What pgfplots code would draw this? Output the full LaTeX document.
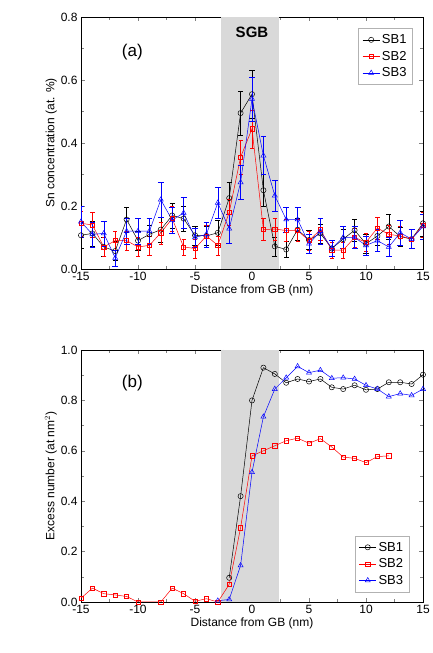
\documentclass[border=0pt]{standalone}
\usepackage{pgfplots}
\pgfplotsset{compat=1.18}
\usepackage{fontspec}
\setmainfont{Liberation Sans}
\begin{document}
\begin{tikzpicture}
\useasboundingbox (0pt,0pt) rectangle (433pt,653pt);
\pgfplotsset{
  myax/.style={
    width=342pt, height=252pt, scale only axis,
    xmin=-15, xmax=15, xtick={-15,-10,...,15}, minor x tick num=1,
    minor y tick num=1, tick align=inside, tick pos=both,
    font=\fontsize{12}{14}\selectfont,
    /pgf/number format/assume math mode=true,
    xlabel={Distance from GB (nm)},
    xlabel style={yshift=3pt}, ylabel style={yshift=-3pt},
    legend cell align=left,
    legend style={font=\fontsize{13}{15}\selectfont, draw=gray!60, row sep=2pt, inner sep=4pt},
    every axis plot/.append style={line width=0.5pt},
    yticklabel style={/pgf/number format/.cd, fixed, fixed zerofill, precision=1},
  },
  s1/.style={black, mark=o, mark size=2.6pt, mark options={fill=white, solid}},
  s2/.style={red, mark=square, mark size=2.1pt, mark options={fill=white, solid}},
  s3/.style={blue, mark=triangle, mark size=2.9pt, mark options={fill=white, solid}},
}
% (a)
\begin{axis}[myax, at={(81pt,384pt)}, anchor=south west,
  ymin=0, ymax=0.8, ytick={0,0.2,...,0.8},
  ylabel={Sn concentration (at. \%)},
  legend style={at={(0.97,0.955)}, anchor=north east}]
\fill[gray!30] (axis cs:-2.7,0) rectangle (axis cs:2.35,0.8);
\node[font=\bfseries\fontsize{15}{17}\selectfont] at (axis cs:0,0.75) {SGB};
\node[font=\fontsize{17}{19}\selectfont] at (axis cs:-10.5,0.69) {(a)};
\addplot[s1, error bars/.cd, y dir=both, y explicit] coordinates {
(-15,0.107)+-(0,0.04) (-14,0.113)+-(0,0.04) (-13,0.07)+-(0,0.03) (-12,0.057)+-(0,0.03)
(-11,0.157)+-(0,0.04) (-10,0.09)+-(0,0.03) (-9,0.11)+-(0,0.03) (-8,0.125)+-(0,0.04)
(-7,0.17)+-(0,0.04) (-6,0.16)+-(0,0.04) (-5,0.107)+-(0,0.03) (-4,0.105)+-(0,0.03)
(-3,0.115)+-(0,0.04) (-2,0.225)+-(0,0.05) (-1,0.495)+-(0,0.07) (0,0.555)+-(0,0.075)
(1,0.25)+-(0,0.05) (2,0.072)+-(0,0.03) (3,0.062)+-(0,0.025) (4,0.125)+-(0,0.035)
(5,0.092)+-(0,0.03) (6,0.113)+-(0,0.03) (7,0.065)+-(0,0.025) (8,0.095)+-(0,0.03)
(9,0.123)+-(0,0.035) (10,0.08)+-(0,0.03) (11,0.105)+-(0,0.03) (12,0.135)+-(0,0.04)
(13,0.103)+-(0,0.03) (14,0.095)+-(0,0.03) (15,0.145)+-(0,0.04)};
\addlegendentry{SB1}
\addplot[s2, error bars/.cd, y dir=both, y explicit] coordinates {
(-15,0.145)+-(0,0.04) (-14,0.14)+-(0,0.04) (-13,0.07)+-(0,0.03) (-12,0.09)+-(0,0.03)
(-11,0.09)+-(0,0.03) (-10,0.07)+-(0,0.03) (-9,0.075)+-(0,0.03) (-8,0.115)+-(0,0.035)
(-7,0.16)+-(0,0.04) (-6,0.07)+-(0,0.025) (-5,0.065)+-(0,0.03) (-4,0.105)+-(0,0.035)
(-3,0.075)+-(0,0.03) (-2,0.18)+-(0,0.04) (-1,0.355)+-(0,0.055) (0,0.445)+-(0,0.06)
(1,0.125)+-(0,0.035) (2,0.127)+-(0,0.035) (3,0.122)+-(0,0.035) (4,0.122)+-(0,0.035)
(5,0.09)+-(0,0.03) (6,0.125)+-(0,0.035) (7,0.06)+-(0,0.025) (8,0.06)+-(0,0.025)
(9,0.1)+-(0,0.03) (10,0.085)+-(0,0.03) (11,0.13)+-(0,0.035) (12,0.11)+-(0,0.03)
(13,0.105)+-(0,0.03) (14,0.095)+-(0,0.03) (15,0.14)+-(0,0.04)};
\addlegendentry{SB2}
\addplot[s3, error bars/.cd, y dir=both, y explicit] coordinates {
(-15,0.15)+-(0,0.05) (-14,0.11)+-(0,0.04) (-13,0.113)+-(0,0.04) (-12,0.035)+-(0,0.025)
(-11,0.12)+-(0,0.04) (-10,0.12)+-(0,0.04) (-9,0.12)+-(0,0.04) (-8,0.22)+-(0,0.055)
(-7,0.155)+-(0,0.04) (-6,0.178)+-(0,0.05) (-5,0.1)+-(0,0.03) (-4,0.11)+-(0,0.04)
(-3,0.21)+-(0,0.05) (-2,0.128)+-(0,0.045) (-1,0.275)+-(0,0.055) (0,0.54)+-(0,0.07)
(1,0.36)+-(0,0.06) (2,0.233)+-(0,0.05) (3,0.157)+-(0,0.04) (4,0.157)+-(0,0.04)
(5,0.08)+-(0,0.03) (6,0.12)+-(0,0.04) (7,0.065)+-(0,0.025) (8,0.1)+-(0,0.035)
(9,0.1)+-(0,0.035) (10,0.075)+-(0,0.03) (11,0.09)+-(0,0.035) (12,0.07)+-(0,0.03)
(13,0.115)+-(0,0.04) (14,0.095)+-(0,0.03) (15,0.135)+-(0,0.04)};
\addlegendentry{SB3}
\end{axis}
% (b)
\begin{axis}[myax, at={(81pt,51pt)}, anchor=south west,
  ymin=0, ymax=1.0, ytick={0,0.2,...,1.0},
  ylabel={Excess number (at nm$^{2}$)},
  legend style={at={(0.96,0.04)}, anchor=south east}]
\fill[gray!30] (axis cs:-2.7,0) rectangle (axis cs:2.35,1.0);
\node[font=\fontsize{17}{19}\selectfont] at (axis cs:-10.5,0.87) {(b)};
\addplot[s1] coordinates {(-2,0.096) (-1,0.42) (0,0.80) (1,0.93) (2,0.905) (3,0.87) (4,0.885) (5,0.875) (6,0.885) (7,0.852) (8,0.845) (9,0.86) (10,0.842) (11,0.845) (12,0.872) (13,0.872) (14,0.865) (15,0.902)};
\addlegendentry{SB1}
\addplot[s2] coordinates {(-15,0.015) (-14,0.055) (-13,0.033) (-12,0.028) (-11,0.022) (-10,0.0) (-8,0.0) (-7,0.055) (-6,0.033) (-5,0.003) (-4,0.013) (-3,0.0) (-2,0.07) (-1,0.295) (0,0.58) (1,0.60) (2,0.62) (3,0.64) (4,0.65) (5,0.63) (6,0.648) (7,0.615) (8,0.575) (9,0.57) (10,0.553) (11,0.577) (12,0.58)};
\addlegendentry{SB2}
\addplot[s3] coordinates {(-3,0.005) (-2,0.01) (-1,0.145) (0,0.515) (1,0.735) (2,0.845) (3,0.89) (4,0.935) (5,0.91) (6,0.92) (7,0.888) (8,0.89) (9,0.885) (10,0.86) (11,0.845) (12,0.815) (13,0.827) (14,0.82) (15,0.845)};
\addlegendentry{SB3}
\end{axis}
\end{tikzpicture}
\end{document}
